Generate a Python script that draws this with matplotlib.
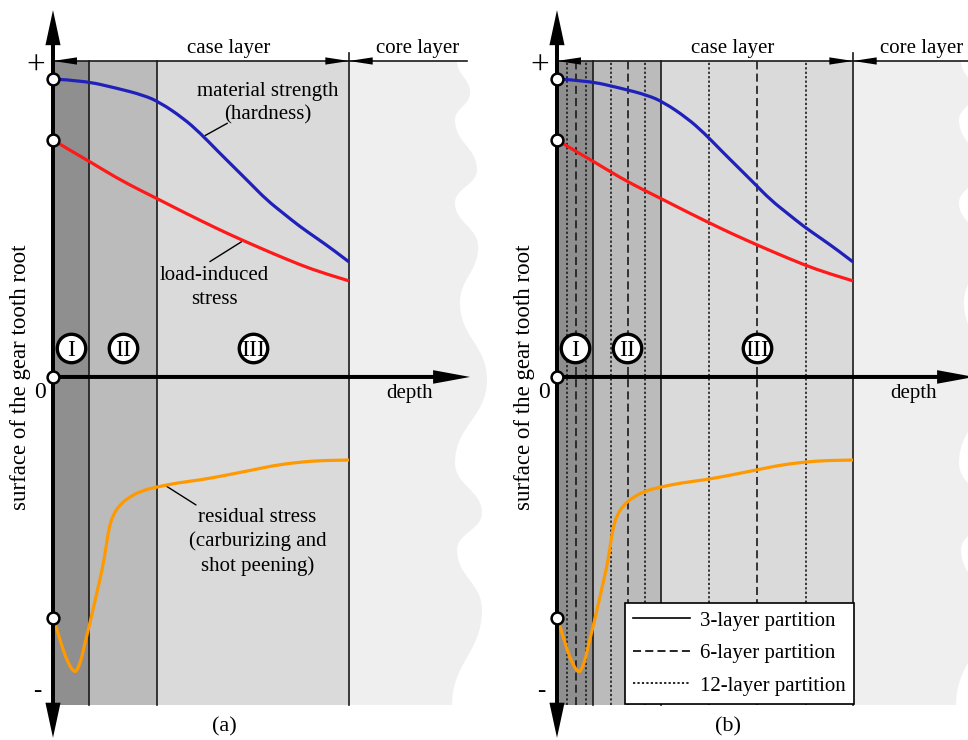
import matplotlib
matplotlib.use('Agg')
import matplotlib.pyplot as plt
from matplotlib.patches import Rectangle, PathPatch
from matplotlib.path import Path
from matplotlib.lines import Line2D

plt.rcParams['font.family'] = ['Liberation Serif', 'DejaVu Serif']
plt.rcParams['lines.scale_dashes'] = False

# depth in % of case-layer depth, stress in % of the "+" level
zone_bounds = [0.0, 12.2, 35.1, 100.0]
zone_labels = ['I', 'II', 'III']
zone_colors = ['#8f8f8f', '#bbbbbb', '#dadada']
core_color = '#efefef'

six_layer_lines = [6.4, 24.0, 67.6]
twelve_layer_lines = [3.4, 9.8, 18.2, 29.7, 51.4, 84.1]

strength_depth = [0, 10.2, 21.5, 30.5, 36.1, 44.0, 49.7, 55.3, 60.9, 66.6, 72.2, 77.8,
                  83.4, 89.1, 94.7, 100]
strength_value = [94.3, 93.8, 91.4, 89.2, 86.9, 81.9, 77.2, 71.8, 66.6, 61.3, 56.0, 51.8,
                  47.6, 43.9, 40.2, 36.4]

load_depth = [0, 6.0, 12.5, 21.5, 29.0, 36.1, 44.0, 55.3, 63.2, 72.2, 83.4, 91.5, 100]
load_value = [75.0, 71.6, 68.1, 63.0, 59.3, 56.0, 52.2, 47.0, 43.6, 39.9, 35.5, 32.8, 30.4]

residual_depth = [0, 1.4, 3.4, 5.4, 7.1, 8.1, 9.5, 10.8, 12.5, 14.5, 16.6, 17.9, 18.9, 20.3,
                  22.3, 25.3, 29.7, 35.1, 42.2, 49.7, 57.4, 67.6, 76.0, 84.1, 91.2, 100]
residual_value = [-76.3, -80.1, -86.4, -91.1, -93.4, -93.0, -89.6, -84.2, -77.8, -69.6, -61.1,
                  -54.1, -47.8, -43.7, -40.8, -38.3, -36.1, -34.8, -33.5, -32.6, -31.3, -29.4,
                  -27.8, -26.9, -26.4, -26.3]

# wavy break line of the core layer: turning points (depth %, stress %)
core_edge_depth = [136.5, 140.9, 135.8, 143.2, 135.8, 143.6, 137.5, 146.6, 135.8, 144.9,
                   136.5, 144.9, 134.8]
core_edge_level = [100.0, 89.9, 81.3, 65.5, 55.1, 41.1, 23.4, -0.9, -27.2, -43.0,
                   -54.7, -73.7, -103.8]

surface_marks = [94.3, 75.0, 0.0, -76.3]

legend_labels = ['3-layer partition', '6-layer partition', '12-layer partition']

DASH = (0, (5.8, 3.0))
DOT = (0, (1.6, 1.6))
TOP, BOTTOM = 100.0, -103.8

fig = plt.figure(figsize=(9.68, 7.4), dpi=100)


def smooth_path(xs, ys):
    """Quadratic B-spline through the read points (midpoint rule)."""
    pts = list(zip(xs, ys))
    verts = [pts[0]]
    codes = [Path.MOVETO]
    n = len(pts)
    for i in range(1, n - 1):
        if i < n - 2:
            end = ((pts[i][0] + pts[i + 1][0]) / 2, (pts[i][1] + pts[i + 1][1]) / 2)
        else:
            end = pts[n - 1]
        verts += [pts[i], end]
        codes += [Path.CURVE3, Path.CURVE3]
    return Path(verts, codes)


def wave_patch():
    verts = [(100, TOP), (core_edge_depth[0], core_edge_level[0])]
    codes = [Path.MOVETO, Path.LINETO]
    for i in range(len(core_edge_depth) - 1):
        x0, y0 = core_edge_depth[i], core_edge_level[i]
        x1, y1 = core_edge_depth[i + 1], core_edge_level[i + 1]
        dy = (y1 - y0) * 0.45
        verts += [(x0, y0 + dy), (x1, y1 - dy), (x1, y1)]
        codes += [Path.CURVE4] * 3
    verts += [(100, BOTTOM), (100, TOP)]
    codes += [Path.LINETO, Path.CLOSEPOLY]
    return PathPatch(Path(verts, codes), facecolor=core_color, lw=0, zorder=0)


def draw_panel(ax, caption, partitions):
    ax.set_xlim(-17.9, 151.0)
    ax.set_ylim(-114.9, 119.3)
    ax.axis('off')

    ax.add_patch(wave_patch())
    for i in range(3):
        ax.add_patch(Rectangle((zone_bounds[i], BOTTOM), zone_bounds[i + 1] - zone_bounds[i],
                               TOP - BOTTOM, facecolor=zone_colors[i], lw=0, zorder=1))
    for b in zone_bounds[1:3]:
        ax.plot([b, b], [BOTTOM, TOP], color='#1a1a1a', lw=1.2, zorder=2)
    ax.plot([100, 100], [BOTTOM, 102.5], color='#1a1a1a', lw=1.2, zorder=2)

    if partitions:
        for b in six_layer_lines:
            ax.plot([b, b], [BOTTOM, TOP], color='#1a1a1a', lw=1.2, ls=DASH, zorder=2)
        for b in twelve_layer_lines:
            ax.plot([b, b], [BOTTOM, TOP], color='#1a1a1a', lw=1.2, ls=DOT, zorder=2)

    for xs, ys, col in [(strength_depth, strength_value, '#2020bb'),
                        (load_depth, load_value, '#ff1a1a'),
                        (residual_depth, residual_value, '#ff9900')]:
        ax.add_patch(PathPatch(smooth_path(xs, ys), fill=False, edgecolor=col, lw=2.3,
                               capstyle='butt', joinstyle='round', zorder=4))

    # top dimension line
    ax.plot([0, 140], [TOP, TOP], color='#1a1a1a', lw=1.2, zorder=5)
    for x0, dx in [(8.1, -8.1), (92.0, 8.0), (108.0, -8.0)]:
        ax.arrow(x0, TOP, dx, 0, width=0, head_width=2.3, head_length=abs(dx),
                 length_includes_head=True, color='black', lw=0, zorder=5)
    ax.text(59.3, 104.1, 'case layer', ha='center', va='center', fontsize=15, zorder=5)
    ax.text(123.3, 104.1, 'core layer', ha='center', va='center', fontsize=15, zorder=5)

    # axes arrows
    ax.arrow(0, 0, 0, 116.1, width=1.35, head_width=5.1, head_length=11.1,
             length_includes_head=True, color='black', lw=0, zorder=6)
    ax.arrow(0, 0, 0, -114.2, width=1.35, head_width=5.1, head_length=11.1,
             length_includes_head=True, color='black', lw=0, zorder=6)
    ax.arrow(0, 0, 140.9, 0, width=1.27, head_width=4.3, head_length=12.5,
             length_includes_head=True, color='black', lw=0, zorder=6)

    ax.plot([0] * len(surface_marks), surface_marks, 'o', ms=8.5, mfc='white', mec='black',
            mew=1.8, zorder=7)

    ax.text(-5.7, 98.3, '+', ha='center', va='center', fontsize=24, zorder=6)
    ax.text(-4.4, -5.0, '0', ha='center', va='center', fontsize=17, zorder=6)
    ax.text(-5.3, -99.4, '-', ha='center', va='center', fontsize=18, zorder=6)
    ax.text(-11.1, 0, 'surface of the gear tooth root', rotation=90, ha='center', va='center',
            fontsize=16.5, zorder=6)
    ax.text(120.3, -5.1, 'depth', ha='center', va='center', fontsize=15, zorder=6)
    ax.text(57.8, -110.8, caption, ha='center', va='center', fontsize=16, zorder=6)

    # zone markers
    for i, lab in enumerate(zone_labels):
        xc = (zone_bounds[i] + zone_bounds[i + 1]) / 2
        ax.plot([xc], [9.2], 'o', ms=20.5, mfc='white', mec='black', mew=2.4, zorder=7)
        ax.text(xc, 9.2, lab, ha='center', va='center_baseline', fontsize=17, zorder=8)

    if not partitions:
        ax.text(72.6, 86.5, 'material strength\n(hardness)', ha='center', va='center',
                fontsize=15, linespacing=1.3, zorder=6)
        ax.annotate('', xy=(51.4, 76.4), xytext=(58.9, 80.3),
                    arrowprops=dict(arrowstyle='-', lw=1.0, color='black', shrinkA=0, shrinkB=0))
        ax.text(54.4, 28.3, 'load-induced\nstress', ha='center', va='center',
                fontsize=15, linespacing=1.3, zorder=6)
        ax.annotate('', xy=(53.0, 36.5), xytext=(63.7, 42.8),
                    arrowprops=dict(arrowstyle='-', lw=1.0, color='black', shrinkA=0, shrinkB=0))
        ax.text(69.1, -52.2, 'residual stress\n(carburizing and\nshot peening)', ha='center',
                va='center', fontsize=15, linespacing=1.3, zorder=6)
        ax.annotate('', xy=(38.2, -34.5), xytext=(48.3, -40.5),
                    arrowprops=dict(arrowstyle='-', lw=1.0, color='black', shrinkA=0, shrinkB=0))
    else:
        handles = [Line2D([], [], color='black', lw=1.2),
                   Line2D([], [], color='black', lw=1.2, ls=DASH),
                   Line2D([], [], color='black', lw=1.2, ls=DOT)]
        leg = ax.legend(handles, legend_labels, loc='lower right',
                        bbox_to_anchor=(100.3, -103.5), bbox_transform=ax.transData,
                        fontsize=15, frameon=True, fancybox=False, framealpha=1,
                        edgecolor='black', borderaxespad=0, handlelength=2.75,
                        handletextpad=0.45, labelspacing=0.62, borderpad=0.4)
        leg.get_frame().set_linewidth(1.2)
        leg.set_zorder(10)


ax_a = fig.add_axes([0, 0, 500 / 968, 1])
draw_panel(ax_a, '(a)', False)
ax_b = fig.add_axes([504 / 968, 0, 500 / 968, 1])
draw_panel(ax_b, '(b)', True)

fig.savefig('out.png', dpi=100)
